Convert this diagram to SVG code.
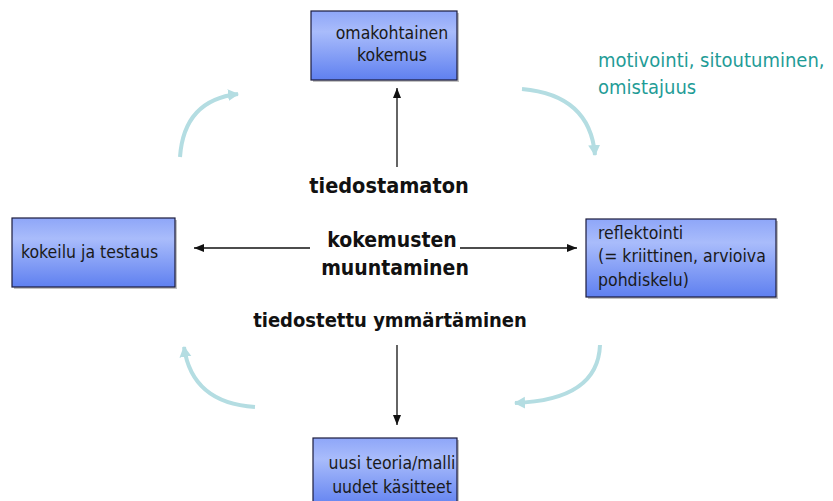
<svg xmlns="http://www.w3.org/2000/svg" width="833" height="501" viewBox="0 0 833 501">
  <defs>
    <linearGradient id="boxFill" x1="0" y1="0" x2="0" y2="1">
      <stop offset="0" stop-color="#8ea6f8"/>
      <stop offset="0.3" stop-color="#a9bcfb"/>
      <stop offset="1" stop-color="#5f80f0"/>
    </linearGradient>
    <marker id="headBlack" markerUnits="userSpaceOnUse" markerWidth="12" markerHeight="10" refX="10" refY="5" orient="auto">
      <path d="M0,1 L10,5 L0,9 Z" fill="#111"/>
    </marker>
    <marker id="headTeal" markerUnits="userSpaceOnUse" markerWidth="14" markerHeight="14" refX="10" refY="7" orient="auto">
      <path d="M0,1 L11,7 L0,13 Z" fill="#b4dde2"/>
    </marker>
    <filter id="soft" x="-10%" y="-10%" width="120%" height="120%">
      <feGaussianBlur stdDeviation="0.5"/>
    </filter>
  </defs>
  <style>
    .box { fill: url(#boxFill); stroke: #1c1c3c; stroke-width: 1.2; }
    .shadow { fill: #9a9a9a; opacity: 0.6; }
    .lbl { font-family: "DejaVu Sans", "Liberation Sans", sans-serif; font-stretch: condensed; font-size: 17.5px; fill: #1a1a1a; }
    .mid { font-family: "DejaVu Sans", "Liberation Sans", sans-serif; font-stretch: condensed; font-weight: bold; font-size: 21px; fill: #111; text-anchor: middle; }
    .teal { font-family: "DejaVu Sans", "Liberation Sans", sans-serif; font-stretch: condensed; font-size: 20px; fill: #1f9c97; }
    .line { stroke: #111; stroke-width: 1.3; fill: none; marker-end: url(#headBlack); }
    .curve { stroke: #b4dde2; stroke-width: 4; fill: none; marker-end: url(#headTeal); filter: url(#soft); }
  </style>

  <rect width="833" height="501" fill="#ffffff"/>

  <!-- connectors -->
  <g id="connectors">
    <line class="line" x1="397" y1="167" x2="397" y2="88"/>
    <line class="line" x1="397" y1="345" x2="397" y2="425"/>
    <line class="line" x1="310" y1="248" x2="194" y2="248"/>
    <line class="line" x1="460" y1="248" x2="577" y2="248"/>
    <path class="curve" d="M180,157 Q184,100 238,94"/>
    <path class="curve" d="M522,89 Q590,95 595,155"/>
    <path class="curve" d="M255,407 Q192,403 184,347"/>
    <path class="curve" d="M600,345 Q598,400 515,403"/>
  </g>

  <!-- nodes -->
  <g id="node-kokemus">
    <rect class="shadow" x="313" y="13" width="146" height="69"/>
    <rect class="box" x="311" y="11" width="146" height="69"/>
    <text class="lbl" x="392" y="39" text-anchor="middle">omakohtainen</text>
    <text class="lbl" x="392" y="61" text-anchor="middle">kokemus</text>
  </g>

  <g id="node-kokeilu">
    <rect class="shadow" x="14" y="220" width="163" height="69"/>
    <rect class="box" x="12" y="218" width="163" height="69"/>
    <text class="lbl" x="21" y="258">kokeilu ja testaus</text>
  </g>

  <g id="node-reflektointi">
    <rect class="shadow" x="588" y="221" width="190" height="78"/>
    <rect class="box" x="586" y="219" width="190" height="78"/>
    <text class="lbl" x="598" y="239">reflektointi</text>
    <text class="lbl" x="598" y="262">(= kriittinen, arvioiva</text>
    <text class="lbl" x="598" y="286">pohdiskelu)</text>
  </g>

  <g id="node-teoria">
    <rect class="shadow" x="315" y="440" width="144" height="70"/>
    <rect class="box" x="313" y="438" width="144" height="70"/>
    <text class="lbl" x="392" y="469" text-anchor="middle">uusi teoria/malli</text>
    <text class="lbl" x="392" y="493" text-anchor="middle">uudet käsitteet</text>
  </g>

  <g id="node-center">
    <text class="mid" x="389" y="193" style="font-size:21.5px">tiedostamaton</text>
    <text class="mid" x="392" y="247">kokemusten</text>
    <text class="mid" x="395" y="275">muuntaminen</text>
    <text class="mid" x="390" y="327" style="font-size:20px">tiedostettu ymmärtäminen</text>
  </g>

  <g id="node-motivointi">
    <text class="teal" x="598" y="67">motivointi, sitoutuminen,</text>
    <text class="teal" x="598" y="94">omistajuus</text>
  </g>
</svg>
